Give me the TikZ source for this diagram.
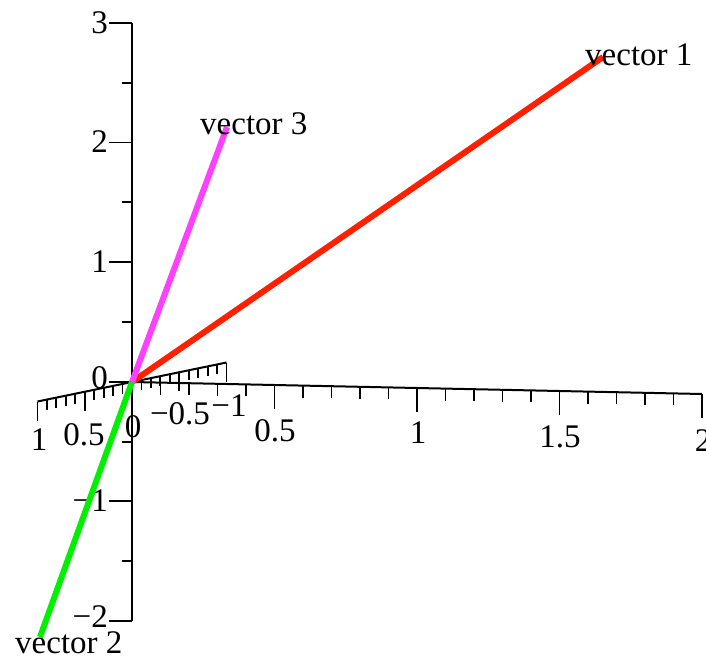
\documentclass[tikz,border=0pt]{standalone}
\usepackage{fontspec}
\setmainfont{Liberation Serif}
\usetikzlibrary{calc}
\begin{document}
\begin{tikzpicture}[x=1pt,y=-1pt,
  axisline/.style={line width=2pt,black},
  tickline/.style={line width=1.8pt,black},
  vecline/.style={line width=6pt,line cap=butt},
  lbl/.style={font=\fontsize{33}{36}\selectfont,inner sep=0pt}]
\definecolor{vred}{RGB}{255,32,0}
\definecolor{vgreen}{RGB}{0,240,0}
\definecolor{vmag}{RGB}{255,64,255}
\useasboundingbox (0,0) rectangle (706,658);
% axes
\coordinate (O) at (132,382);
\coordinate (X2) at (702,394);
\coordinate (Yp) at (37.5,401.5);
\coordinate (Ym) at (226.5,362.5);
\coordinate (Zt) at (132,23);
\coordinate (Zb) at (132,621);
\draw[axisline] (Zt) -- (Zb);
\draw[axisline] (O) -- (X2);
\draw[axisline] (Yp) -- (Ym);
\foreach \i in {1,...,20}{
  \pgfmathsetmacro\len{mod(\i,5)==0 ? 24 : 12}
  \draw[tickline] ($(O)!\i/20!(X2)$) -- ++(0,\len);
}
\foreach \i in {0,...,20}{
  \pgfmathsetmacro\len{mod(\i,5)==0 ? 19 : 10}
  \draw[tickline] ($(Yp)!\i/20!(Ym)$) -- ++(0,\len);
}
\foreach \i in {0,...,10}{
  \pgfmathsetmacro\len{mod(\i,2)==0 ? 23 : 10}
  \draw[tickline] ($(Zt)!\i/10!(Zb)$) -- ++(-\len,0);
}
% z labels
\node[lbl,anchor=east] (z3) at (108,23) {3};
\node[lbl,anchor=east] (z2) at (108,142) {2};
\node[lbl,anchor=east] (z1) at (108,262) {1};
\node[lbl,anchor=east] (z0) at (108,378) {0};
\node[lbl,anchor=east] (zm1) at (108,501) {−1};
\node[lbl,anchor=east] (zm2) at (108,617) {−2};
% x labels
\node[lbl] (x05) at (275,431) {0.5};
\node[lbl] (x1) at (418,433) {1};
\node[lbl] (x15) at (560,437) {1.5};
\node[lbl] (x2) at (703,441) {2};
% y labels
\node[lbl] (y1) at (39,440) {1};
\node[lbl] (y05) at (84,435) {0.5};
\node[lbl] (y0) at (133,427) {0};
\node[lbl] (ym05) at (180,414) {−0.5};
\node[lbl] (ym1) at (229,406) {−1};
% vectors
\coordinate (V1) at (603,57);
\coordinate (V2) at (40,637);
\coordinate (V3) at (227,127);
\draw[vecline,vred] (O) -- (V1);
\draw[vecline,vgreen] (O) -- (V2);
\draw[vecline,vmag] (O) -- (V3);
\node[lbl,anchor=base west] (l1) at (585,66) {vector 1};
\node[lbl,anchor=base west] (l3) at (200,135) {vector 3};
\node[lbl,anchor=base west] (l2) at (15,653) {vector 2};
\end{tikzpicture}
\end{document}
